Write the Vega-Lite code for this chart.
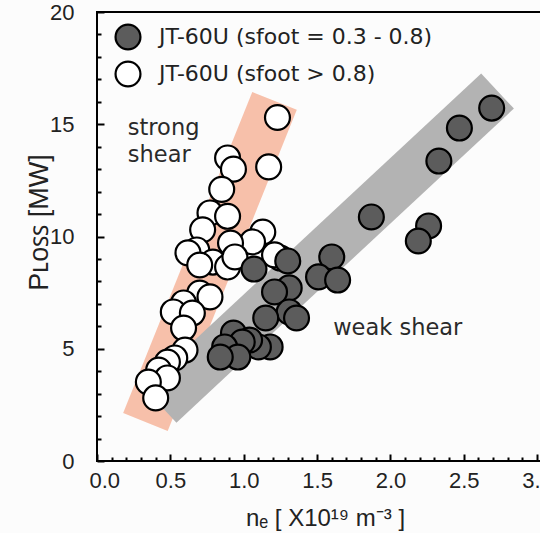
{
  "$schema": "https://vega.github.io/schema/vega-lite/v6.json",
  "width": 445,
  "height": 449,
  "autosize": {"type": "none"},
  "padding": {"left": 97, "top": 12, "right": 0, "bottom": 72},
  "background": "#fcfcfc",
  "config": {"view": {"stroke": "#000", "strokeWidth": 2}},
  "datasets": {
    "bands": [
      {"band": "strong", "x": 0.33, "y": 1.74},
      {"band": "strong", "x": 1.21, "y": 16.04},
      {"band": "weak", "x": 0.43, "y": 2.49},
      {"band": "weak", "x": 2.73, "y": 16.48}
    ],
    "points": [
      {"g": "JT-60U (sfoot > 0.8)", "x": 1.23, "y": 15.3},
      {"g": "JT-60U (sfoot > 0.8)", "x": 1.17, "y": 13.1},
      {"g": "JT-60U (sfoot > 0.8)", "x": 0.89, "y": 13.5},
      {"g": "JT-60U (sfoot > 0.8)", "x": 0.93, "y": 13.0},
      {"g": "JT-60U (sfoot > 0.8)", "x": 0.85, "y": 12.1},
      {"g": "JT-60U (sfoot > 0.8)", "x": 0.77, "y": 11.05},
      {"g": "JT-60U (sfoot > 0.8)", "x": 0.89, "y": 10.9},
      {"g": "JT-60U (sfoot > 0.8)", "x": 0.72, "y": 10.3},
      {"g": "JT-60U (sfoot > 0.8)", "x": 1.13, "y": 10.2},
      {"g": "JT-60U (sfoot > 0.8)", "x": 1.06, "y": 9.76},
      {"g": "JT-60U (sfoot > 0.8)", "x": 0.91, "y": 9.71},
      {"g": "JT-60U (sfoot > 0.8)", "x": 0.68, "y": 9.4},
      {"g": "JT-60U (sfoot > 0.8)", "x": 0.62, "y": 9.27},
      {"g": "JT-60U (sfoot > 0.8)", "x": 0.79, "y": 8.86},
      {"g": "JT-60U (sfoot > 0.8)", "x": 0.7, "y": 8.73},
      {"g": "JT-60U (sfoot > 0.8)", "x": 0.89, "y": 8.64},
      {"g": "JT-60U (sfoot > 0.8)", "x": 0.94, "y": 9.09},
      {"g": "JT-60U (sfoot > 0.8)", "x": 1.25, "y": 9.04},
      {"g": "JT-60U (sfoot > 0.8)", "x": 1.21, "y": 9.18},
      {"g": "JT-60U (sfoot > 0.8)", "x": 0.7, "y": 7.48},
      {"g": "JT-60U (sfoot > 0.8)", "x": 0.77, "y": 7.31},
      {"g": "JT-60U (sfoot > 0.8)", "x": 0.59, "y": 7.04},
      {"g": "JT-60U (sfoot > 0.8)", "x": 0.52, "y": 6.64},
      {"g": "JT-60U (sfoot > 0.8)", "x": 0.65, "y": 6.59},
      {"g": "JT-60U (sfoot > 0.8)", "x": 0.59, "y": 5.92},
      {"g": "JT-60U (sfoot > 0.8)", "x": 0.6, "y": 4.94},
      {"g": "JT-60U (sfoot > 0.8)", "x": 0.53, "y": 4.59},
      {"g": "JT-60U (sfoot > 0.8)", "x": 0.48, "y": 4.41},
      {"g": "JT-60U (sfoot > 0.8)", "x": 0.42, "y": 4.05},
      {"g": "JT-60U (sfoot > 0.8)", "x": 0.48, "y": 3.7},
      {"g": "JT-60U (sfoot > 0.8)", "x": 0.35, "y": 3.52},
      {"g": "JT-60U (sfoot > 0.8)", "x": 0.4, "y": 2.81},
      {"g": "JT-60U (sfoot = 0.3 - 0.8)", "x": 2.69, "y": 15.72},
      {"g": "JT-60U (sfoot = 0.3 - 0.8)", "x": 2.47, "y": 14.83},
      {"g": "JT-60U (sfoot = 0.3 - 0.8)", "x": 2.33, "y": 13.36},
      {"g": "JT-60U (sfoot = 0.3 - 0.8)", "x": 1.87, "y": 10.87},
      {"g": "JT-60U (sfoot = 0.3 - 0.8)", "x": 2.26, "y": 10.47},
      {"g": "JT-60U (sfoot = 0.3 - 0.8)", "x": 2.19, "y": 9.8},
      {"g": "JT-60U (sfoot = 0.3 - 0.8)", "x": 1.6, "y": 9.09},
      {"g": "JT-60U (sfoot = 0.3 - 0.8)", "x": 1.51, "y": 8.2},
      {"g": "JT-60U (sfoot = 0.3 - 0.8)", "x": 1.64, "y": 8.06},
      {"g": "JT-60U (sfoot = 0.3 - 0.8)", "x": 1.3, "y": 8.91},
      {"g": "JT-60U (sfoot = 0.3 - 0.8)", "x": 1.07, "y": 8.55},
      {"g": "JT-60U (sfoot = 0.3 - 0.8)", "x": 1.31, "y": 7.71},
      {"g": "JT-60U (sfoot = 0.3 - 0.8)", "x": 1.21, "y": 7.53},
      {"g": "JT-60U (sfoot = 0.3 - 0.8)", "x": 1.31, "y": 6.64},
      {"g": "JT-60U (sfoot = 0.3 - 0.8)", "x": 1.36, "y": 6.37},
      {"g": "JT-60U (sfoot = 0.3 - 0.8)", "x": 1.15, "y": 6.37},
      {"g": "JT-60U (sfoot = 0.3 - 0.8)", "x": 0.93, "y": 5.7},
      {"g": "JT-60U (sfoot = 0.3 - 0.8)", "x": 1.18, "y": 5.08},
      {"g": "JT-60U (sfoot = 0.3 - 0.8)", "x": 1.1, "y": 5.08},
      {"g": "JT-60U (sfoot = 0.3 - 0.8)", "x": 1.04, "y": 5.39},
      {"g": "JT-60U (sfoot = 0.3 - 0.8)", "x": 0.99, "y": 5.3},
      {"g": "JT-60U (sfoot = 0.3 - 0.8)", "x": 0.87, "y": 5.08},
      {"g": "JT-60U (sfoot = 0.3 - 0.8)", "x": 0.96, "y": 4.63},
      {"g": "JT-60U (sfoot = 0.3 - 0.8)", "x": 0.84, "y": 4.63}
    ],
    "notes": [
      {"x": 0.21, "y": 14.85, "t": "strong"},
      {"x": 0.21, "y": 13.65, "t": "shear"},
      {"x": 1.61, "y": 5.92, "t": "weak shear"}
    ]
  },
  "encoding": {
    "x": {
      "field": "x", "type": "quantitative",
      "scale": {"domain": [0, 3.033], "nice": false, "zero": false},
      "axis": {
        "values": [0,0.1,0.2,0.3,0.4,0.5,0.6,0.7,0.8,0.9,1,1.1,1.2,1.3,1.4,1.5,1.6,1.7,1.8,1.9,2,2.1,2.2,2.3,2.4,2.5,2.6,2.7,2.8,2.9,3],
        "labelExpr": "abs(datum.value*2 - round(datum.value*2)) < 0.001 ? format(datum.value, '.1f') : ''",
        "domain": false, "grid": false,
        "tickSize": {"condition": {"test": "abs(datum.value*2 - round(datum.value*2)) < 0.001", "value": -7}, "value": -4},
        "tickWidth": 2, "tickColor": "#000",
        "labelPadding": 16, "labelFlush": true, "labelFlushOffset": 8, "labelOverlap": false, "labelBound": false,
        "labelFont": "Liberation Sans", "labelFontSize": 22, "labelColor": "#222",
        "title": "nₑ [ X10¹⁹ m⁻³ ]",
        "titleFont": "Liberation Sans", "titleFontSize": 24, "titleFontWeight": "normal", "titleColor": "#222",
        "titleX": 228, "titleY": 57, "titleBaseline": "middle", "titleAlign": "center"
      }
    },
    "y": {
      "field": "y", "type": "quantitative",
      "scale": {"domain": [0, 20], "nice": false},
      "axis": {
        "values": [0,1,2,3,4,5,6,7,8,9,10,11,12,13,14,15,16,17,18,19,20],
        "labelExpr": "datum.value % 5 === 0 ? datum.label : ''",
        "domain": false, "grid": false,
        "tickSize": {"condition": {"test": "datum.value % 5 === 0", "value": -7}, "value": -4},
        "tickWidth": 2, "tickColor": "#000",
        "labelPadding": 30, "labelOverlap": false, "labelBound": false, "labelFlush": false,
        "labelFont": "Liberation Sans", "labelFontSize": 22, "labelColor": "#222",
        "title": "Pʟᴏꜱꜱ [MW]",
        "titleFont": "Liberation Sans", "titleFontSize": 27, "titleFontWeight": "normal", "titleColor": "#222",
        "titleX": -58, "titleY": 210, "titleAngle": -90, "titleBaseline": "middle", "titleAlign": "center"
      }
    }
  },
  "layer": [
    {
      "data": {"name": "bands"},
      "mark": {"type": "line", "strokeWidth": 48, "strokeCap": "butt", "opacity": 1},
      "encoding": {
        "stroke": {
          "field": "band", "type": "nominal",
          "scale": {"domain": ["strong", "weak"], "range": ["#f7c0aa", "#b3b3b3"]},
          "legend": null
        }
      }
    },
    {
      "data": {"name": "points"},
      "mark": {"type": "point", "shape": "circle", "filled": true, "size": 620, "stroke": "#000", "strokeWidth": 2.2, "opacity": 1},
      "encoding": {
        "fill": {
          "field": "g", "type": "nominal",
          "scale": {"domain": ["JT-60U (sfoot = 0.3 - 0.8)", "JT-60U (sfoot > 0.8)"], "range": ["#5c5c5c", "#ffffff"]},
          "legend": {
            "title": null, "orient": "none", "legendX": 17, "legendY": 11,
            "symbolType": "circle", "symbolSize": 620, "symbolStrokeColor": "#000", "symbolStrokeWidth": 2.2, "symbolOpacity": 1,
            "labelFont": "DejaVu Sans", "labelFontSize": 22, "labelColor": "#222", "labelOffset": 17, "labelLimit": 400,
            "rowPadding": 3, "padding": 0
          }
        }
      }
    },
    {
      "data": {"name": "notes"},
      "mark": {"type": "text", "align": "left", "baseline": "middle", "font": "DejaVu Sans", "fontSize": 22.5, "fill": "#2a2a2a"},
      "encoding": {
        "text": {"field": "t", "type": "nominal"}
      }
    }
  ]
}
